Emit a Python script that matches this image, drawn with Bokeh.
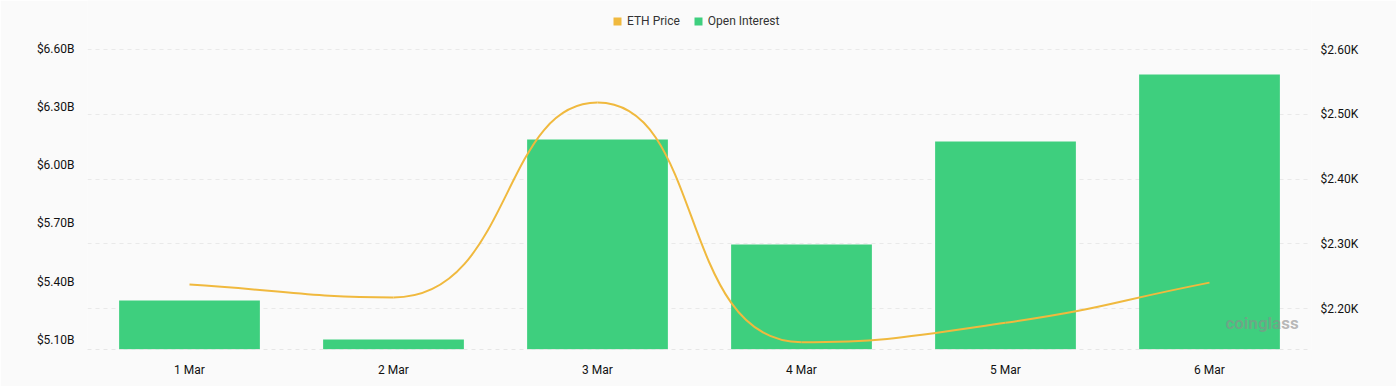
import math
from bokeh.plotting import figure
from bokeh.models import (Range1d, LinearAxis, FixedTicker, PrintfTickFormatter,
                          Legend, LegendItem, ColumnDataSource, Label)
from bokeh.embed import file_html
from bokeh.resources import INLINE

# ---- data ----
categories = ["1 Mar", "2 Mar", "3 Mar", "4 Mar", "5 Mar", "6 Mar"]
open_interest_b = [5.302, 5.100, 6.134, 5.591, 6.124, 6.471]   # $B
eth_price_k = [2.237, 2.217, 2.518, 2.148, 2.178, 2.240]       # $K
oi_ticks = [5.10, 5.40, 5.70, 6.00, 6.30, 6.60]
price_ticks = [2.20, 2.30, 2.40, 2.50, 2.60]

GREEN = "#3ecf7e"
GOLD = "#f0b93e"
BG = "#fafafa"
FONT = "Roboto"

xs = list(range(len(categories)))

p = figure(width=1396, height=386, output_backend="svg", toolbar_location=None,
           x_range=Range1d(-0.5, len(categories) - 0.5),
           y_range=Range1d(2.1367, 2.6757), y_axis_location="right",
           min_border_left=87, min_border_right=85, min_border_top=0,
           min_border_bottom=37, background_fill_color=BG, border_fill_color=BG,
           outline_line_color=None)

p.extra_y_ranges = {"oi": Range1d(5.0483, 6.8534)}

# right axis (price) = main
ra = p.yaxis[0]
ra.ticker = FixedTicker(ticks=price_ticks)
ra.formatter = PrintfTickFormatter(format="$%.2fK")
ra.major_label_standoff = 3

la = LinearAxis(y_range_name="oi", ticker=FixedTicker(ticks=oi_ticks),
                formatter=PrintfTickFormatter(format="$%.2fB"))
la.major_label_standoff = 7
p.add_layout(la, "left")

for ax in (ra, la):
    ax.axis_line_color = None
    ax.major_tick_line_color = None
    ax.minor_tick_line_color = None
    ax.major_label_text_font = FONT
    ax.major_label_text_font_size = "12px"
    ax.major_label_text_color = "#111111"

xa = p.xaxis[0]
xa.ticker = FixedTicker(ticks=xs)
xa.major_label_overrides = {i: c for i, c in enumerate(categories)}
xa.major_tick_line_color = None
xa.minor_tick_line_color = None
xa.axis_line_color = "#e6e6e6"
xa.axis_line_dash = "4 4"
xa.major_label_standoff = 7
xa.major_label_text_font = FONT
xa.major_label_text_font_size = "12px"
xa.major_label_text_color = "#111111"

p.xgrid.visible = False
p.ygrid.grid_line_color = "#e9e9e9"
p.ygrid.grid_line_dash = "4 4"

# bars
src = ColumnDataSource(dict(x=xs, top=open_interest_b))
bars = p.vbar(x="x", top="top", bottom=5.0483, width=0.69, source=src,
              y_range_name="oi", fill_color=GREEN, line_color=None)

# smooth line (echarts-like smoothing with flat tangents at extrema)
sx, sy = 204.0, 647.5   # pixel scale per category / per $1K, for smoothing only
pts = [(x * sx, y * sy) for x, y in zip(xs, eth_price_k)]
n = len(pts)
cin, cout = [None] * n, [None] * n
smooth = 0.5
for i in range(n):
    x, y = pts[i]
    px, py = pts[i - 1] if i > 0 else pts[i]
    nx, ny = pts[i + 1] if i < n - 1 else pts[i]
    vx, vy = (nx - px) * smooth, (ny - py) * smooth
    if 0 < i < n - 1 and (y - py) * (ny - y) <= 0:
        vy = 0.0
    lp = math.hypot(x - px, y - py)
    ln = math.hypot(nx - x, ny - y)
    r = ln / (ln + lp) if (ln + lp) > 0 else 0.5
    cin[i] = (x - vx * (1 - r), y - vy * (1 - r))
    cout[i] = (x + vx * r, y + vy * r)

bz = dict(x0=[], y0=[], x1=[], y1=[], cx0=[], cy0=[], cx1=[], cy1=[])
for i in range(n - 1):
    bz["x0"].append(pts[i][0] / sx); bz["y0"].append(pts[i][1] / sy)
    bz["x1"].append(pts[i + 1][0] / sx); bz["y1"].append(pts[i + 1][1] / sy)
    bz["cx0"].append(cout[i][0] / sx); bz["cy0"].append(cout[i][1] / sy)
    bz["cx1"].append(cin[i + 1][0] / sx); bz["cy1"].append(cin[i + 1][1] / sy)
p.bezier(x0="x0", y0="y0", x1="x1", y1="y1", cx0="cx0", cy0="cy0", cx1="cx1",
         cy1="cy1", source=ColumnDataSource(bz), line_color=GOLD, line_width=2)

# legend proxy for price (square swatch)
proxy = p.vbar(x=[float("nan")], top=[float("nan")], width=0.5,
               fill_color=GOLD, line_color=None)

legend = Legend(items=[LegendItem(label="ETH Price", renderers=[proxy]),
                       LegendItem(label="Open Interest", renderers=[bars])],
                orientation="horizontal", location=(525, 321),
                glyph_width=10, glyph_height=10, label_height=14,
                label_standoff=5, spacing=13, padding=0, margin=0,
                background_fill_alpha=0, border_line_color=None,
                label_text_font=FONT, label_text_font_size="12px",
                label_text_color="#333333")
p.add_layout(legend, "center")

# watermark
p.add_layout(Label(x=5.078, y=2.177, text="coinglass", text_font=FONT,
                   text_font_size="17px", text_font_style="bold",
                   text_color="#8c8c8c", text_alpha=0.62, text_baseline="middle"))

open("out.html", "w").write(file_html(p, INLINE))
